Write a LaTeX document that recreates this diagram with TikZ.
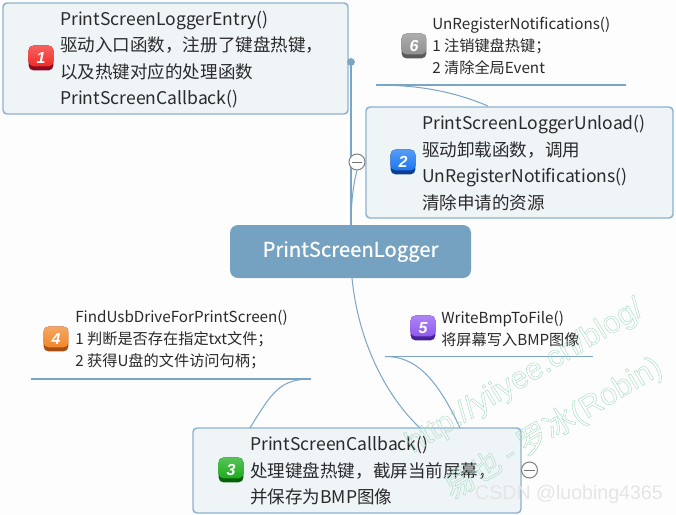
\documentclass[tikz,border=0pt]{standalone}
\usepackage{fontspec}
\setmainfont{Noto Sans CJK SC}
\setsansfont{Liberation Sans}
\definecolor{edgeblue}{HTML}{7AA5C4}
\definecolor{boxfill}{HTML}{EFF4F7}
\definecolor{boxline}{HTML}{8DB2CE}
\definecolor{rootfill}{HTML}{76A2C1}
\definecolor{inktext}{HTML}{2A2A2A}
\definecolor{wmgreen}{HTML}{A4DABF}
\definecolor{pagebg}{HTML}{FDFDFD}
\definecolor{redtop}{HTML}{F0201C}\definecolor{reddk}{HTML}{8E0A22}
\definecolor{bluetop}{HTML}{1070F0}\definecolor{bluedk}{HTML}{0A3E90}
\definecolor{greentop}{HTML}{10A810}\definecolor{greendk}{HTML}{086008}
\definecolor{orangetop}{HTML}{F08020}\definecolor{orangedk}{HTML}{A84E10}
\definecolor{purpletop}{HTML}{8A50F0}\definecolor{purpledk}{HTML}{4A2098}
\definecolor{greytop}{HTML}{8A8A8A}\definecolor{greydk}{HTML}{5A5A5A}
\newfontfamily\rootfont[FakeBold=0.5]{Noto Sans CJK SC}
\newfontfamily\wmcjk{Noto Sans CJK SC}
\newcommand{\outlined}[1]{\special{pdf:code 1 Tr 0.3 w}#1\special{pdf:code 0 Tr}}
\tikzset{
  x=0.75pt,y=-0.75pt,
  topicbox/.style={draw=boxline,line width=1.1pt,fill=boxfill,rounded corners=3pt},
  bigtext/.style={anchor=west,align=left,inner sep=0pt,text=inktext,font=\fontsize{13.15pt}{19.85pt}\selectfont},
  smalltext/.style={anchor=west,align=left,inner sep=0pt,text=inktext,font=\fontsize{11.4pt}{16.5pt}\selectfont},
  link/.style={draw=edgeblue,line width=0.75pt},
  rulestyle/.style={draw=edgeblue,line width=0.8pt},
  collapse/.style={circle,draw=black!50,fill=white,line width=0.75pt,minimum size=12pt,inner sep=0pt,
     path picture={\draw[black!55,line width=0.75pt] ([xshift=-3.8pt]path picture bounding box.center) -- ([xshift=3.8pt]path picture bounding box.center);}},
  badge/.style 2 args={rounded corners=3.5pt,minimum size=18.5pt,inner sep=0pt,fill=#2,text=white,
     font=\sffamily\bfseries\itshape\fontsize{12pt}{12pt}\selectfont,
     path picture={
       \fill[rounded corners=3.5pt,top color=#1!70!white,bottom color=#1]
         (path picture bounding box.north west) rectangle ([yshift=3pt]path picture bounding box.south east);}},
  wmark/.style={text=wmgreen,rotate=31,inner sep=0pt,font=\sffamily\fontsize{23pt}{23pt}\selectfont},
}
\begin{document}
\begin{tikzpicture}
\useasboundingbox (0,0) rectangle (676,515);
\fill[pagebg] (0,0) rectangle (676,515);

% topic boxes
\node[topicbox,minimum width=258.75pt,minimum height=83.25pt] (entry) at (175.5,58.5) {};
\node[topicbox,minimum width=230.25pt,minimum height=83.25pt] (unload) at (519.5,162.5) {};
\node[topicbox,minimum width=246pt,minimum height=63.75pt] (callback) at (357,470.5) {};
\node[draw=none,fill=rootfill,rounded corners=6pt,minimum width=180.75pt,minimum height=39.75pt,
      text=white,font=\rootfont\fontsize{15.2pt}{18pt}\selectfont] (root) at (350.5,251.5) {PrintScreenLogger};

% free-standing topics
\node[smalltext] (unregtxt) at (432,46) {UnRegisterNotifications()\\1 注销键盘热键；\\2 清除全局Event};
\node[smalltext] (writetxt) at (441,329) {WriteBmpToFile()\\将屏幕写入BMP图像};
\node[smalltext] (findtxt) at (75,339.5) {FindUsbDriveForPrintScreen()\\1 判断是否存在指定txt文件；\\2 获得U盘的文件访问句柄；};

% coordinates
\coordinate (rootn) at (351,225);
\coordinate (dot) at (351,62);
\coordinate (rule6a) at (376,85);  \coordinate (rule6b) at (626,85);
\coordinate (rule5a) at (385,356.5); \coordinate (rule5b) at (593,356.5);
\coordinate (rule4a) at (31,379);  \coordinate (rule4b) at (311,379);
\coordinate (unloadtop) at (488,106);
\coordinate (roots) at (352,278);
\coordinate (cbtopa) at (420,428);
\coordinate (cbtopb) at (460,428);
\coordinate (cbtopc) at (250,428);

% connectors
\draw[link,line width=0.9pt] (rootn) -- (dot);
\fill[edgeblue] (dot) circle (2.9pt);
\node[collapse] (col1) at (357,162) {};
\draw[link] (col1.south) .. controls (353,185) and (351,205) .. (rootn);
\draw[rulestyle] (rule6a) -- (rule6b);
\draw[link] (rule6a) .. controls (420,85) and (455,92) .. (unloadtop);
\draw[rulestyle] (rule5a) -- (rule5b);
\draw[link] (rule5a) .. controls (415,356) and (437,378) .. (cbtopb);
\draw[rulestyle] (rule4a) -- (rule4b);
\draw[link] (rule4b) .. controls (280,379) and (272,392) .. (cbtopc);
\draw[link] (roots) .. controls (358,340) and (385,395) .. (cbtopa);
\node[collapse] (col2) at (529.5,470) {};

% box texts
\node[bigtext] (entrytxt) at (60,59.5) {PrintScreenLoggerEntry()\\驱动入口函数，注册了键盘热键，\\以及热键对应的处理函数\\PrintScreenCallback()};
\node[bigtext] (unloadtxt) at (422,163) {PrintScreenLoggerUnload()\\驱动卸载函数，调用\\UnRegisterNotifications()\\清除申请的资源};
\node[bigtext] (cbtxt) at (250,471) {PrintScreenCallback()\\处理键盘热键，截屏当前屏幕，\\并保存为BMP图像};

% badges
\node[badge={redtop}{reddk}] (b1) at (41,58) {1};
\node[badge={bluetop}{bluedk}] (b2) at (403,162) {2};
\node[badge={greentop}{greendk}] (b3) at (231,470) {3};
\node[badge={orangetop}{orangedk}] (b4) at (56,339) {4};
\node[badge={purpletop}{purpledk}] (b5) at (423,328) {5};
\node[badge={greytop}{greydk}] (b6) at (414,46) {6};

% watermarks
\node[wmark] (wm1) at (525,377) {\outlined{http://yiiyee.cn/blog/}};
\node[wmark] (wm2) at (553,428) {\outlined{{\wmcjk 易也 - 罗冰}(Robin)}};
\node[inner sep=0pt,text=black!10,font=\sffamily\fontsize{14.7pt}{15pt}\selectfont] (wm3) at (569,494) {CSDN @luobing4365};
\end{tikzpicture}
\end{document}
